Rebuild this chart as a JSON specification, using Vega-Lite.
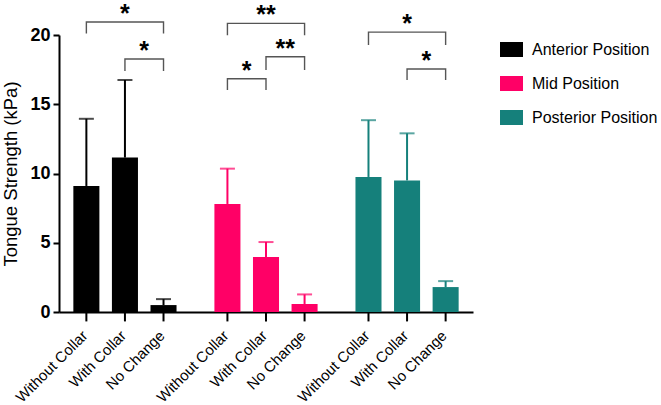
{
  "$schema": "https://vega.github.io/schema/vega-lite/v6.json",
  "autosize": "none",
  "width": 414,
  "height": 277,
  "padding": {"left": 59, "top": 35, "right": 188, "bottom": 93},
  "config": {
    "view": {"stroke": null},
    "font": "Liberation Sans",
    "legend": {"labelFont": "Liberation Sans"},
    "axis": {"labelFont": "Liberation Sans", "titleFont": "Liberation Sans"}
  },
  "datasets": {
    "bars": [
      {"position": "Anterior Position", "cond": "Without Collar", "mean": 9.1, "upper": 13.95},
      {"position": "Anterior Position", "cond": "With Collar", "mean": 11.15, "upper": 16.75},
      {"position": "Anterior Position", "cond": "No Change", "mean": 0.5, "upper": 0.93},
      {"position": "Mid Position", "cond": "Without Collar", "mean": 7.8, "upper": 10.35},
      {"position": "Mid Position", "cond": "With Collar", "mean": 3.97, "upper": 5.05},
      {"position": "Mid Position", "cond": "No Change", "mean": 0.58, "upper": 1.27},
      {"position": "Posterior Position", "cond": "Without Collar", "mean": 9.75, "upper": 13.85},
      {"position": "Posterior Position", "cond": "With Collar", "mean": 9.5, "upper": 12.9},
      {"position": "Posterior Position", "cond": "No Change", "mean": 1.8, "upper": 2.23}
    ],
    "brackets": [
      {"bid": "A1", "position": "Anterior Position", "cond": "Without Collar", "y": 20.1, "idx": 1},
      {"bid": "A1", "position": "Anterior Position", "cond": "Without Collar", "y": 20.94, "idx": 2},
      {"bid": "A1", "position": "Anterior Position", "cond": "No Change", "y": 20.94, "idx": 3},
      {"bid": "A1", "position": "Anterior Position", "cond": "No Change", "y": 20.1, "idx": 4},
      {"bid": "A2", "position": "Anterior Position", "cond": "With Collar", "y": 17.4, "idx": 1},
      {"bid": "A2", "position": "Anterior Position", "cond": "With Collar", "y": 18.27, "idx": 2},
      {"bid": "A2", "position": "Anterior Position", "cond": "No Change", "y": 18.27, "idx": 3},
      {"bid": "A2", "position": "Anterior Position", "cond": "No Change", "y": 17.4, "idx": 4},
      {"bid": "M1", "position": "Mid Position", "cond": "Without Collar", "y": 19.99, "idx": 1},
      {"bid": "M1", "position": "Mid Position", "cond": "Without Collar", "y": 20.84, "idx": 2},
      {"bid": "M1", "position": "Mid Position", "cond": "No Change", "y": 20.84, "idx": 3},
      {"bid": "M1", "position": "Mid Position", "cond": "No Change", "y": 19.99, "idx": 4},
      {"bid": "M2", "position": "Mid Position", "cond": "With Collar", "y": 17.47, "idx": 1},
      {"bid": "M2", "position": "Mid Position", "cond": "With Collar", "y": 18.43, "idx": 2},
      {"bid": "M2", "position": "Mid Position", "cond": "No Change", "y": 18.43, "idx": 3},
      {"bid": "M2", "position": "Mid Position", "cond": "No Change", "y": 17.47, "idx": 4},
      {"bid": "M3", "position": "Mid Position", "cond": "Without Collar", "y": 16.03, "idx": 1},
      {"bid": "M3", "position": "Mid Position", "cond": "Without Collar", "y": 16.84, "idx": 2},
      {"bid": "M3", "position": "Mid Position", "cond": "With Collar", "y": 16.84, "idx": 3},
      {"bid": "M3", "position": "Mid Position", "cond": "With Collar", "y": 16.03, "idx": 4},
      {"bid": "P1", "position": "Posterior Position", "cond": "Without Collar", "y": 19.27, "idx": 1},
      {"bid": "P1", "position": "Posterior Position", "cond": "Without Collar", "y": 20.21, "idx": 2},
      {"bid": "P1", "position": "Posterior Position", "cond": "No Change", "y": 20.21, "idx": 3},
      {"bid": "P1", "position": "Posterior Position", "cond": "No Change", "y": 19.27, "idx": 4},
      {"bid": "P2", "position": "Posterior Position", "cond": "With Collar", "y": 16.75, "idx": 1},
      {"bid": "P2", "position": "Posterior Position", "cond": "With Collar", "y": 17.54, "idx": 2},
      {"bid": "P2", "position": "Posterior Position", "cond": "No Change", "y": 17.54, "idx": 3},
      {"bid": "P2", "position": "Posterior Position", "cond": "No Change", "y": 16.75, "idx": 4}
    ],
    "starsCenter": [
      {"position": "Anterior Position", "cond": "With Collar", "y": 20.94, "label": "*"},
      {"position": "Mid Position", "cond": "With Collar", "y": 20.84, "label": "**"},
      {"position": "Posterior Position", "cond": "With Collar", "y": 20.21, "label": "*"}
    ],
    "starsMid": [
      {"position": "Anterior Position", "cond": "With Collar", "y": 18.27, "label": "*"},
      {"position": "Mid Position", "cond": "With Collar", "y": 18.43, "label": "**"},
      {"position": "Mid Position", "cond": "Without Collar", "y": 16.84, "label": "*"},
      {"position": "Posterior Position", "cond": "With Collar", "y": 17.54, "label": "*"}
    ]
  },
  "encoding": {
    "x": {
      "field": "position",
      "type": "nominal",
      "sort": ["Anterior Position", "Mid Position", "Posterior Position"],
      "scale": {"paddingInner": 0.181, "paddingOuter": 0.058},
      "axis": {"labels": false, "ticks": false, "title": null, "domainColor": "#000000", "domainWidth": 2}
    },
    "xOffset": {
      "field": "cond",
      "type": "nominal",
      "sort": ["Without Collar", "With Collar", "No Change"],
      "scale": {"paddingInner": 0.325, "paddingOuter": 0.16}
    }
  },
  "layer": [
    {
      "data": {"name": "bars"},
      "mark": {"type": "bar", "opacity": 1},
      "encoding": {
        "y": {
          "field": "mean",
          "type": "quantitative",
          "scale": {"domain": [0, 20], "nice": false},
          "axis": {
            "values": [0, 5, 10, 15, 20],
            "grid": false,
            "title": "Tongue Strength (kPa)",
            "titleFontSize": 18.5,
            "titleFontWeight": "normal",
            "titleColor": "#000000",
            "titlePadding": 9,
            "labelFontSize": 18,
            "labelFontWeight": "bold",
            "labelColor": "#000000",
            "labelPadding": 3,
            "tickSize": 6,
            "tickWidth": 2,
            "tickColor": "#000000",
            "domainColor": "#000000",
            "domainWidth": 2
          }
        },
        "color": {
          "field": "position",
          "type": "nominal",
          "scale": {
            "domain": ["Anterior Position", "Mid Position", "Posterior Position"],
            "range": ["#000000", "#FF0066", "#15807B"]
          },
          "legend": {
            "title": null,
            "orient": "none",
            "legendX": 441,
            "legendY": 3,
            "symbolType": "M-1,-0.652h2v1.304h-2z",
            "symbolSize": 529,
            "symbolStrokeWidth": 0,
            "symbolOpacity": 1,
            "labelFontSize": 16,
            "labelColor": "#000000",
            "labelOffset": 9,
            "rowPadding": 14
          }
        }
      }
    },
    {
      "data": {"name": "bars"},
      "mark": {"type": "rule", "strokeWidth": 2},
      "encoding": {
        "y": {"field": "mean", "type": "quantitative"},
        "y2": {"field": "upper"},
        "color": {"field": "position", "type": "nominal", "legend": null}
      }
    },
    {
      "data": {"name": "bars"},
      "mark": {"type": "tick", "thickness": 2, "size": 15, "orient": "horizontal"},
      "encoding": {
        "y": {"field": "upper", "type": "quantitative"},
        "color": {"field": "position", "type": "nominal", "legend": null}
      }
    },
    {
      "data": {"name": "bars"},
      "mark": {"type": "rule", "strokeWidth": 2, "color": "#000000"},
      "encoding": {
        "y": {"datum": 0},
        "y2": {"datum": -0.68}
      }
    },
    {
      "data": {"name": "bars"},
      "mark": {"type": "text", "angle": 315, "align": "right", "baseline": "middle", "dx": -16, "dy": 14, "fontSize": 15, "color": "#000000"},
      "encoding": {
        "y": {"datum": 0},
        "text": {"field": "cond"}
      }
    },
    {
      "data": {"name": "brackets"},
      "mark": {"type": "line", "stroke": "#555555", "strokeWidth": 1.4, "strokeCap": "butt", "strokeJoin": "miter"},
      "encoding": {
        "y": {"field": "y", "type": "quantitative"},
        "detail": {"field": "bid"},
        "order": {"field": "idx"}
      }
    },
    {
      "data": {"name": "starsCenter"},
      "mark": {"type": "text", "fontSize": 25, "fontWeight": "bold", "baseline": "alphabetic", "align": "center", "dy": 0, "color": "#000000"},
      "encoding": {
        "y": {"field": "y", "type": "quantitative"},
        "text": {"field": "label"}
      }
    },
    {
      "data": {"name": "starsMid"},
      "mark": {"type": "text", "fontSize": 25, "fontWeight": "bold", "baseline": "alphabetic", "align": "center", "dx": 19.25, "dy": 0, "color": "#000000"},
      "encoding": {
        "y": {"field": "y", "type": "quantitative"},
        "text": {"field": "label"}
      }
    }
  ]
}
